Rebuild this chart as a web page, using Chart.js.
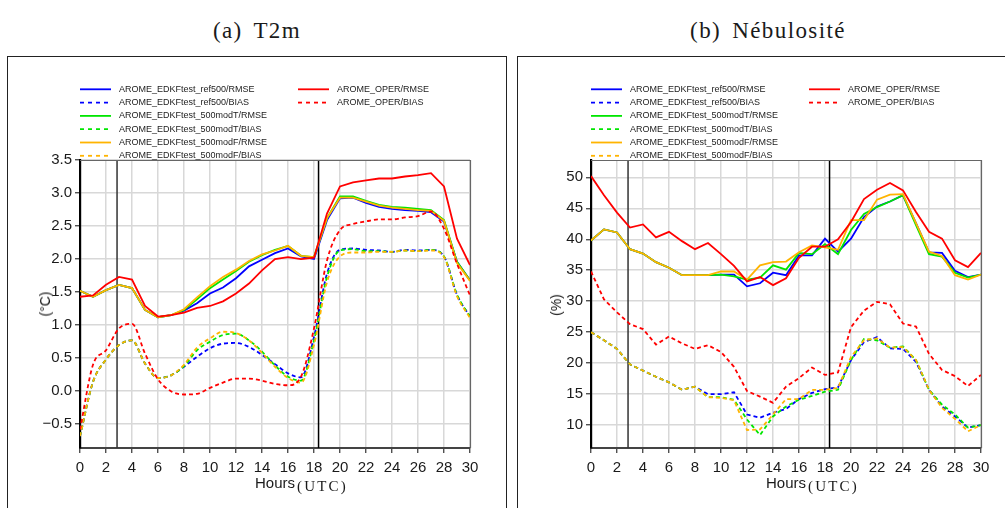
<!DOCTYPE html>
<html><head><meta charset="utf-8">
<script src="https://cdn.jsdelivr.net/npm/chart.js@4/dist/chart.umd.min.js"></script>
<style>
html,body{margin:0;padding:0;}
body{width:1005px;height:508px;overflow:hidden;background:#fff;position:relative;font-family:"Liberation Sans",Arial,sans-serif;color:#1a1a1a}
.title{position:absolute;top:19px;line-height:23px;font-family:"Liberation Serif","DejaVu Serif",serif;font-size:23px;letter-spacing:1.4px;word-spacing:4px;white-space:nowrap;transform:translateX(-50%)}
.box{position:absolute;top:56px;height:480px;border:1.5px solid #222;box-sizing:border-box}
canvas{position:absolute;top:0}
.ylab{position:absolute;font-size:14px;line-height:14px;white-space:nowrap;transform:translate(-50%,-50%) rotate(-90deg)}
.xlab{position:absolute;font-size:15px;line-height:15px;white-space:nowrap}
.utc{position:absolute;font-family:"Liberation Serif","DejaVu Serif",serif;font-size:15px;line-height:15px;letter-spacing:2.2px;white-space:nowrap}
</style></head>
<body>
<div class="box" style="left:7px;width:500px"></div>
<div class="box" style="left:517px;width:500px"></div>
<div class="title" style="left:257px">(a) T2m</div>
<div class="title" style="left:768px">(b) Nébulosité</div>
<canvas id="c1" width="510" height="508" style="left:0"></canvas>
<canvas id="c2" width="494" height="508" style="left:511px"></canvas>
<div class="ylab" style="left:45px;top:304px">(°C)</div>
<div class="ylab" style="left:556px;top:305px">(%)</div>
<div class="xlab" style="left:255px;top:475px">Hours</div>
<div class="utc" style="left:297px;top:479px">(UTC)</div>
<div class="xlab" style="left:766px;top:475px">Hours</div>
<div class="utc" style="left:808px;top:479px">(UTC)</div>
<script>
// ---------------- DATA ----------------
const hours = [0,1,2,3,4,5,6,7,8,9,10,11,12,13,14,15,16,17,18,19,20,21,22,23,24,25,26,27,28,29,30];
const xTicks = [0,2,4,6,8,10,12,14,16,18,20,22,24,26,28,30];
const t2mYTicks = [-0.5,0,0.5,1,1.5,2,2.5,3,3.5];
const nebYTicks = [10,15,20,25,30,35,40,45,50];
const markerHours = [2.85, 18.35];

const seriesLabels = [
  'AROME_EDKFtest_ref500/RMSE','AROME_EDKFtest_ref500/BIAS',
  'AROME_EDKFtest_500modT/RMSE','AROME_EDKFtest_500modT/BIAS',
  'AROME_EDKFtest_500modF/RMSE','AROME_EDKFtest_500modF/BIAS',
  'AROME_OPER/RMSE','AROME_OPER/BIAS'
];

// T2m (°C)
const t2mRef500Rmse = [1.52,1.43,1.53,1.61,1.56,1.23,1.12,1.15,1.22,1.33,1.48,1.57,1.71,1.89,1.99,2.09,2.16,2.04,2.00,2.59,2.92,2.93,2.85,2.79,2.76,2.74,2.73,2.71,2.57,1.96,1.68];
const t2mRef500Bias = [-0.68,0.14,0.48,0.70,0.77,0.42,0.20,0.24,0.37,0.52,0.65,0.72,0.73,0.67,0.55,0.41,0.27,0.21,0.82,1.78,2.14,2.16,2.14,2.13,2.11,2.14,2.13,2.14,2.04,1.46,1.13];
const t2mModTRmse   = [1.52,1.43,1.53,1.61,1.56,1.23,1.12,1.15,1.23,1.39,1.56,1.69,1.82,1.96,2.06,2.14,2.20,2.05,2.03,2.62,2.95,2.95,2.88,2.82,2.79,2.78,2.76,2.74,2.59,1.96,1.68];
const t2mModTBias   = [-0.68,0.14,0.48,0.70,0.77,0.42,0.20,0.24,0.38,0.62,0.75,0.85,0.87,0.77,0.60,0.39,0.22,0.16,0.77,1.73,2.13,2.15,2.12,2.12,2.11,2.13,2.12,2.14,2.04,1.46,1.13];
const t2mModFRmse   = [1.52,1.43,1.53,1.61,1.56,1.23,1.12,1.15,1.24,1.42,1.59,1.73,1.84,1.97,2.07,2.13,2.20,2.05,2.03,2.62,2.93,2.93,2.87,2.81,2.78,2.76,2.74,2.73,2.58,1.94,1.67];
const t2mModFBias   = [-0.68,0.14,0.48,0.70,0.77,0.42,0.20,0.24,0.40,0.66,0.80,0.90,0.88,0.77,0.58,0.37,0.20,0.13,0.70,1.65,2.04,2.10,2.10,2.11,2.11,2.13,2.12,2.13,2.03,1.44,1.11];
const t2mOperRmse   = [1.43,1.45,1.61,1.73,1.69,1.29,1.13,1.15,1.19,1.26,1.29,1.36,1.48,1.63,1.83,2.00,2.03,2.00,2.02,2.69,3.10,3.16,3.19,3.22,3.22,3.25,3.27,3.30,3.10,2.31,1.91];
const t2mOperBias   = [-0.58,0.40,0.62,0.95,1.02,0.57,0.18,0.00,-0.05,-0.04,0.05,0.13,0.19,0.19,0.16,0.11,0.09,0.22,0.95,1.98,2.44,2.53,2.57,2.60,2.60,2.63,2.65,2.72,2.46,1.93,1.45];

// Nébulosité (%)
const nebRef500Rmse = [39.8,41.6,41.1,38.4,37.7,36.3,35.4,34.2,34.2,34.2,34.3,34.3,32.4,32.9,34.6,34.2,37.4,37.4,40.1,38.0,40.1,43.6,45.3,46.1,47.1,42.6,37.9,37.8,34.9,33.9,34.3];
const nebRef500Bias = [25.0,23.7,22.3,19.8,18.8,17.8,16.9,15.7,16.2,15.0,15.0,15.3,11.7,11.2,12.0,12.6,14.2,15.2,15.8,16.1,20.5,23.4,24.2,22.4,22.3,20.2,15.7,13.0,11.4,9.6,10.0];
const nebModTRmse   = [39.8,41.6,41.1,38.4,37.7,36.3,35.4,34.2,34.2,34.2,34.3,34.0,33.5,33.8,35.8,35.1,37.8,37.6,39.2,37.6,41.5,44.1,45.2,46.1,47.1,42.3,37.6,37.2,34.6,33.8,34.3];
const nebModTBias   = [25.0,23.7,22.3,19.8,18.8,17.8,16.9,15.7,16.2,14.5,14.5,14.1,10.9,8.4,11.4,13.0,14.1,14.7,15.4,15.7,20.5,23.9,23.7,22.5,22.7,20.5,15.7,13.3,11.7,9.6,10.0];
const nebModFRmse   = [39.8,41.6,41.1,38.4,37.7,36.3,35.4,34.2,34.2,34.2,34.8,34.8,33.5,35.8,36.3,36.4,37.9,39.0,38.7,38.3,43.1,43.1,46.4,47.2,47.3,42.6,38.0,37.3,34.2,33.5,34.3];
const nebModFBias   = [25.0,23.7,22.3,19.8,18.8,17.8,16.9,15.7,16.2,14.5,14.4,14.0,9.2,9.3,11.7,14.2,14.2,15.7,15.7,16.0,21.0,23.7,24.0,22.5,22.6,20.5,15.7,12.8,11.0,9.0,10.0];
const nebOperRmse   = [50.2,47.1,44.3,41.9,42.4,40.3,41.2,39.7,38.4,39.4,37.6,35.7,33.2,33.9,32.6,33.7,37.0,38.8,38.8,40.0,42.8,46.5,48.0,49.1,47.9,44.4,41.2,40.1,36.6,35.5,37.8];
const nebOperBias   = [34.8,30.3,28.2,26.3,25.5,23.0,24.3,23.2,22.3,22.9,21.8,19.4,15.5,14.6,13.6,16.2,17.6,19.3,18.1,18.5,25.8,28.5,29.9,29.5,26.4,25.9,21.5,18.9,17.9,16.3,18.1];

// ---------------- STYLE ----------------
const STYLE = {
  colors: ['#0000ff','#0000ff','#00e600','#00e600','#ffb400','#ffb400','#ff0000','#ff0000'],
  dashed: [false,true,false,true,false,true,false,true],
  legendCol: [0,0,0,0,0,0,1,1],
  legendRow: [0,1,2,3,4,5,0,1],
  order: [3,3,2,2,1,1,0,0]
};

Chart.defaults.font.family = '"Liberation Sans", Arial, sans-serif';
Chart.defaults.color = '#1a1a1a';

function buildDatasets(valueLists, yMin, yMax, smoothBias) {
  const ds = valueLists.map((vals, i) => ({
    label: seriesLabels[i],
    data: hours.map((h, k) => ({x: h, y: vals[k]})),
    borderColor: STYLE.colors[i],
    backgroundColor: STYLE.colors[i],
    borderWidth: 1.8,
    borderDash: STYLE.dashed[i] ? [4, 3] : [],
    pointRadius: 0,
    fill: false,
    tension: (smoothBias && STYLE.dashed[i]) ? 0.4 : 0,
    cubicInterpolationMode: (smoothBias && STYLE.dashed[i]) ? 'monotone' : 'default',
    order: STYLE.order[i],
    legendCol: STYLE.legendCol[i],
    legendRow: STYLE.legendRow[i]
  }));
  markerHours.forEach((h, j) => ds.push({
    label: 'marker' + j,
    data: [{x: h, y: yMin}, {x: h, y: yMax}],
    borderColor: j === 0 ? '#333' : '#000',
    borderWidth: 1.5,
    pointRadius: 0,
    fill: false,
    order: 10
  }));
  return ds;
}

const legendPlugin = {
  id: 'twoColLegend',
  afterDraw(chart) {
    const ctx = chart.ctx, a = chart.chartArea;
    ctx.save();
    ctx.font = '9px "Liberation Sans", Arial, sans-serif';
    ctx.textBaseline = 'middle';
    ctx.fillStyle = '#222';
    chart.data.datasets.forEach(d => {
      if (d.legendRow === undefined) return;
      const x0 = a.left + d.legendCol * 218;
      const y = a.top - 70.7 + d.legendRow * 13.3;
      ctx.strokeStyle = d.borderColor;
      ctx.lineWidth = 1.8;
      ctx.setLineDash(d.borderDash.length ? [4, 4] : []);
      ctx.beginPath(); ctx.moveTo(x0, y); ctx.lineTo(x0 + 31, y); ctx.stroke();
      ctx.setLineDash([]);
      ctx.fillText(d.label, x0 + 39, y);
    });
    // frame top & right
    ctx.strokeStyle = '#666';
    ctx.lineWidth = 1.2;
    ctx.beginPath();
    ctx.moveTo(a.left, a.top + 0.5); ctx.lineTo(a.right + 0.5, a.top + 0.5); ctx.lineTo(a.right + 0.5, a.bottom);
    ctx.stroke();
    ctx.restore();
  }
};

function makeChart(id, valueLists, yMin, yMax, yTicks, fmt, padRight, smoothBias) {
  return new Chart(document.getElementById(id), {
    type: 'line',
    data: {datasets: buildDatasets(valueLists, yMin, yMax, smoothBias)},
    options: {
      responsive: false,
      animation: false,
      devicePixelRatio: 1,
      layout: {padding: {left: 0, top: 160, right: padRight, bottom: 0}},
      plugins: {legend: {display: false}, tooltip: {enabled: false}},
      scales: {
        x: {
          type: 'linear', min: 0, max: 30,
          afterBuildTicks: s => { s.ticks = xTicks.map(v => ({value: v})); },
          afterFit: s => { s.height = 60; },
          ticks: {font: {size: 15}, color: '#1a1a1a', padding: 6, maxRotation: 0, callback: v => String(v)},
          grid: {color: '#d8d8d8', lineWidth: 1.5, tickColor: '#333', tickLength: 5, tickWidth: 1.2},
          border: {color: '#444', width: 2}
        },
        y: {
          type: 'linear', min: yMin, max: yMax,
          afterBuildTicks: s => { s.ticks = yTicks.map(v => ({value: v})); },
          afterFit: s => { s.width = 80; },
          ticks: {font: {size: 15}, color: '#1a1a1a', padding: 3, callback: fmt},
          grid: {color: '#d8d8d8', lineWidth: 1.5, tickColor: '#333', tickLength: 5, tickWidth: 1.2},
          border: {color: '#000', width: 2.2}
        }
      }
    },
    plugins: [legendPlugin]
  });
}

makeChart('c1',
  [t2mRef500Rmse, t2mRef500Bias, t2mModTRmse, t2mModTBias, t2mModFRmse, t2mModFBias, t2mOperRmse, t2mOperBias],
  -0.86, 3.5, t2mYTicks,
  v => (v < 0 ? '\u2212' : '') + Math.abs(v).toFixed(1), 40, true);

makeChart('c2',
  [nebRef500Rmse, nebRef500Bias, nebModTRmse, nebModTBias, nebModFRmse, nebModFBias, nebOperRmse, nebOperBias],
  6.3, 52.8, nebYTicks,
  v => String(v), 24, false);
</script>
</body></html>
